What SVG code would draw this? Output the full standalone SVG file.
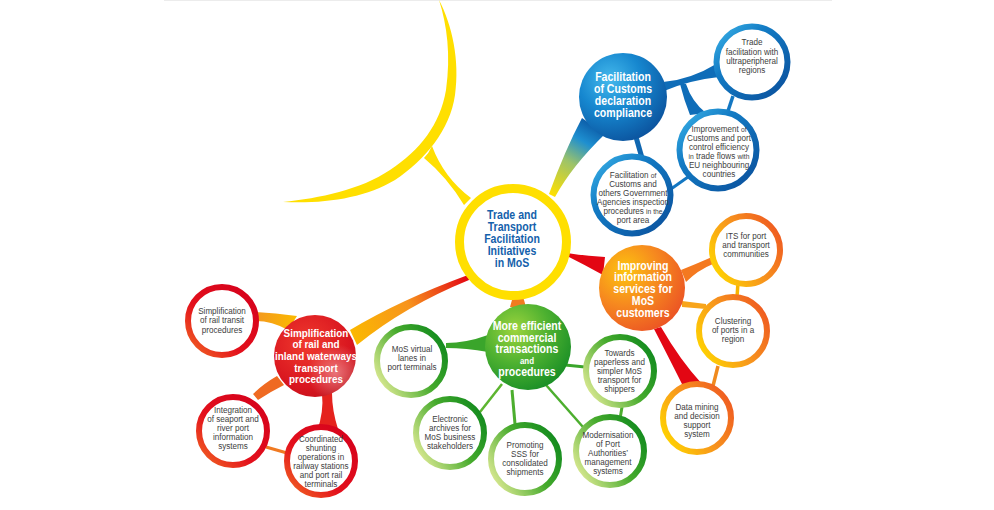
<svg xmlns="http://www.w3.org/2000/svg" width="994" height="510" viewBox="0 0 994 510">
<defs>
  <linearGradient id="ringBlue" x1="0" y1="0" x2="1" y2="1">
    <stop offset="0" stop-color="#3bb3e8"/><stop offset="0.35" stop-color="#137bc4"/><stop offset="1" stop-color="#0a4f9b"/>
  </linearGradient>
  <linearGradient id="ringOrange" x1="1" y1="0.2" x2="0" y2="0.8">
    <stop offset="0" stop-color="#ef5a21"/><stop offset="0.5" stop-color="#f7941d"/><stop offset="1" stop-color="#ffd400"/>
  </linearGradient>
  <linearGradient id="ringRed" x1="1" y1="0" x2="0" y2="1">
    <stop offset="0" stop-color="#d4001c"/><stop offset="0.6" stop-color="#e3101c"/><stop offset="1" stop-color="#f26a23"/>
  </linearGradient>
  <linearGradient id="ringGreen" x1="1" y1="0.2" x2="0" y2="0.8">
    <stop offset="0" stop-color="#118a1e"/><stop offset="0.45" stop-color="#45aa2c"/><stop offset="1" stop-color="#dbe992"/>
  </linearGradient>
  <radialGradient id="fillBlue" cx="0.35" cy="0.3" r="0.8">
    <stop offset="0" stop-color="#45b9ec"/><stop offset="0.45" stop-color="#1687cf"/><stop offset="1" stop-color="#0a4d98"/>
  </radialGradient>
  <radialGradient id="fillOrange" cx="0.3" cy="0.3" r="0.8">
    <stop offset="0" stop-color="#fdc40f"/><stop offset="0.5" stop-color="#f6891f"/><stop offset="1" stop-color="#eb5224"/>
  </radialGradient>
  <radialGradient id="fillRed" cx="0.4" cy="0.35" r="0.75">
    <stop offset="0" stop-color="#f03a2e"/><stop offset="0.7" stop-color="#d9161f"/><stop offset="1" stop-color="#c0121b"/>
  </radialGradient>
  <radialGradient id="hiRed" cx="0.75" cy="0.7" r="0.35">
    <stop offset="0" stop-color="#ffffff" stop-opacity="0.4"/><stop offset="1" stop-color="#ffffff" stop-opacity="0"/>
  </radialGradient>
  <radialGradient id="fillGreen" cx="0.35" cy="0.3" r="0.8">
    <stop offset="0" stop-color="#9cd43d"/><stop offset="0.5" stop-color="#4cb030"/><stop offset="1" stop-color="#138a25"/>
  </radialGradient>
  <linearGradient id="gBlueWedge" gradientUnits="userSpaceOnUse" x1="552" y1="195" x2="595" y2="124">
    <stop offset="0" stop-color="#ffe000"/><stop offset="0.45" stop-color="#9cc36a"/><stop offset="0.75" stop-color="#1e8fd0"/><stop offset="1" stop-color="#0b5aa6"/>
  </linearGradient>
  <linearGradient id="gRedWedge" gradientUnits="userSpaceOnUse" x1="352" y1="338" x2="468" y2="278">
    <stop offset="0" stop-color="#fbb900"/><stop offset="0.5" stop-color="#f7941d"/><stop offset="1" stop-color="#e30613"/>
  </linearGradient>
  <linearGradient id="gRailTransit" gradientUnits="userSpaceOnUse" x1="258" y1="318" x2="295" y2="322">
    <stop offset="0" stop-color="#f49a1e"/><stop offset="1" stop-color="#fbb900"/>
  </linearGradient>
  <style>
    .sat{fill:#fff;stroke-width:6}
    .st{font-family:"Liberation Sans",Arial,sans-serif;font-size:9px;fill:#3d3d3d;text-anchor:middle}
    .mt{font-family:"Liberation Sans",Arial,sans-serif;font-size:12px;font-weight:bold;fill:#fff;text-anchor:middle}
    .sm{font-size:7.5px}
  </style>
</defs>
<rect width="994" height="510" fill="#fff"/>
<line x1="164" y1="0.5" x2="832" y2="0.5" stroke="#ececec" stroke-width="1"/>

<g id="connectors">
  <path d="M439,0 C452,25 460,60 455,95 C450,130 425,160 395,180 C365,198 325,204 283,202 C320,198 360,190 390,170 C420,150 440,125 446,90 C451,55 447,25 439,0 Z" fill="#ffdf00"/>
  <path d="M424,158 Q429,153 432,146 Q444,178 471,198 L464,205 Q447,177 424,158 Z" fill="#ffdf00"/>
  <path d="M549,194 Q565,150 582,118 L605,134 Q572,166 555,197 Z" fill="url(#gBlueWedge)"/>
  <path d="M663,82 Q690,80 718,63 L719,77 Q690,80 664,91 Z" fill="#0f6db8"/>
  <path d="M680,84 L686,84 Q692,102 706,113 L690,115 Q684,100 680,84 Z" fill="#0f6db8"/>
  <line x1="636" y1="137" x2="642" y2="158" stroke="#0f66b0" stroke-width="5"/>
  <line x1="733" y1="96" x2="728" y2="111" stroke="#1377c2" stroke-width="3.5"/>
  <line x1="688" y1="177" x2="671" y2="189" stroke="#1377c2" stroke-width="3"/>
  <path d="M567,253 Q585,256 605,257 L603,275 Q585,265 567,256 Z" fill="#e30613"/>
  <path d="M681,270 Q696,264 712,257 L713,264 Q698,270 686,282 Z" fill="#f47920"/>
  <path d="M682,301 L706,304 L706,309 L682,307 Z" fill="#f8a51b"/>
  <line x1="738" y1="283" x2="737" y2="297" stroke="#f7b500" stroke-width="3.5"/>
  <line x1="718" y1="366" x2="713" y2="386" stroke="#f08a1d" stroke-width="3.5"/>
  <path d="M654,329 L661,327 Q680,360 702,384 L684,388 Q668,356 654,329 Z" fill="#e30613"/>
  <path d="M350,330 Q400,300 468,275 L469,280 Q405,306 357,345 Z" fill="url(#gRedWedge)"/>
  <path d="M256,312 Q275,313 297,316 L288,330 Q272,321 256,321 Z" fill="url(#gRailTransit)"/>
  <path d="M277,376 L284,385 Q270,392 258,400 L253,394 Q263,384 277,376 Z" fill="#ef6a22"/>
  <path d="M322,394 L332,393 Q332,410 338,429 L317,431 Q324,412 322,394 Z" fill="#e5221d"/>
  <line x1="266" y1="447" x2="287" y2="453" stroke="#f07a22" stroke-width="3"/>
  <path d="M514,293 L522,293 L526,307 L510,307 Z" fill="#f07b1f"/>
  <path d="M488,335 Q466,343 446,343 L446,348 Q466,348 488,352 Z" fill="#3aa52b"/>
  <line x1="502" y1="384" x2="480" y2="412" stroke="#5db530" stroke-width="2.5"/>
  <line x1="512" y1="390" x2="515" y2="424" stroke="#4cae2e" stroke-width="3"/>
  <line x1="546" y1="385" x2="583" y2="427" stroke="#4cae2e" stroke-width="2.5"/>
  <line x1="565" y1="365" x2="585" y2="367" stroke="#3aa52b" stroke-width="3"/>
  <line x1="622" y1="407" x2="620" y2="419" stroke="#4cae2e" stroke-width="3"/>
</g>

<g id="center">
  <circle cx="513" cy="242" r="53.5" fill="#fff" stroke="#ffdf00" stroke-width="9"/>
  <text class="mt" style="fill:#1461ab" transform="translate(512 0) scale(0.88 1)">
    <tspan x="0" y="219">Trade and</tspan><tspan x="0" y="231.5">Transport</tspan><tspan x="0" y="243">Facilitation</tspan><tspan x="0" y="255">Initiatives</tspan><tspan x="0" y="267">in MoS</tspan>
  </text>
</g>

<g id="customs">
  <circle cx="623" cy="97" r="44" fill="url(#fillBlue)"/>
  <text class="mt" transform="translate(623 0) scale(0.88 1)"><tspan x="0" y="81">Facilitation</tspan><tspan x="0" y="93">of Customs</tspan><tspan x="0" y="105">declaration</tspan><tspan x="0" y="117">compliance</tspan></text>
</g>
<g id="trade-ultraperipheral">
  <circle class="sat" cx="752" cy="62" r="35.5" stroke="url(#ringBlue)" stroke-width="6.5"/>
  <text class="st" transform="translate(752 0) scale(0.9 1)"><tspan x="0" y="45.5">Trade</tspan><tspan x="0" y="55">facilitation with</tspan><tspan x="0" y="64.5">ultraperipheral</tspan><tspan x="0" y="73.5">regions</tspan></text>
</g>
<g id="customs-efficiency">
  <circle class="sat" cx="718" cy="150" r="38.5" stroke="url(#ringBlue)" stroke-width="6.5"/>
  <text class="st" transform="translate(719 0) scale(0.9 1)"><tspan x="0" y="132">Improvement <tspan class="sm">of</tspan></tspan><tspan x="0" y="141">Customs and port</tspan><tspan x="0" y="150">control efficiency</tspan><tspan x="0" y="159"><tspan class="sm">in</tspan> trade flows <tspan class="sm">with</tspan></tspan><tspan x="0" y="168">EU neighbouring</tspan><tspan x="0" y="177">countries</tspan></text>
</g>
<g id="inspection">
  <circle class="sat" cx="632" cy="195" r="38.5" stroke="url(#ringBlue)" stroke-width="6.5"/>
  <text class="st" transform="translate(633 0) scale(0.9 1)"><tspan x="0" y="178">Facilitation <tspan class="sm">of</tspan></tspan><tspan x="0" y="187">Customs and</tspan><tspan x="0" y="196">others Government</tspan><tspan x="0" y="205">Agencies inspection</tspan><tspan x="0" y="214">procedures <tspan class="sm">in the</tspan></tspan><tspan x="0" y="223">port area</tspan></text>
</g>

<g id="information">
  <circle cx="642" cy="288" r="43" fill="url(#fillOrange)"/>
  <text class="mt" transform="translate(643 0) scale(0.88 1)"><tspan x="0" y="270">Improving</tspan><tspan x="0" y="281.5">information</tspan><tspan x="0" y="293.5">services for</tspan><tspan x="0" y="305">MoS</tspan><tspan x="0" y="317">customers</tspan></text>
</g>
<g id="its">
  <circle class="sat" cx="746" cy="250" r="34" stroke="url(#ringOrange)"/>
  <text class="st" transform="translate(746 0) scale(0.9 1)"><tspan x="0" y="239">ITS for port</tspan><tspan x="0" y="248">and transport</tspan><tspan x="0" y="257">communities</tspan></text>
</g>
<g id="clustering">
  <circle class="sat" cx="733" cy="331" r="34" stroke="url(#ringOrange)"/>
  <text class="st" transform="translate(733 0) scale(0.9 1)"><tspan x="0" y="324">Clustering</tspan><tspan x="0" y="333">of ports in a</tspan><tspan x="0" y="342">region</tspan></text>
</g>
<g id="data-mining">
  <circle class="sat" cx="697" cy="418" r="34" stroke="url(#ringOrange)"/>
  <text class="st" transform="translate(697 0) scale(0.9 1)"><tspan x="0" y="410">Data mining</tspan><tspan x="0" y="419">and decision</tspan><tspan x="0" y="428">support</tspan><tspan x="0" y="437">system</tspan></text>
</g>

<g id="rail">
  <circle cx="315" cy="356" r="41" fill="url(#fillRed)"/>
  <circle cx="315" cy="356" r="41" fill="url(#hiRed)"/>
  <text class="mt" style="font-size:11.5px" transform="translate(316 0) scale(0.86 1)"><tspan x="0" y="337">Simplification</tspan><tspan x="0" y="348.5">of rail and</tspan><tspan x="0" y="360">inland waterways</tspan><tspan x="0" y="372">transport</tspan><tspan x="0" y="383.5">procedures</tspan></text>
</g>
<g id="rail-transit">
  <circle class="sat" cx="222" cy="321" r="34" stroke="url(#ringRed)"/>
  <text class="st" transform="translate(222 0) scale(0.9 1)"><tspan x="0" y="314.5">Simplification</tspan><tspan x="0" y="323.5">of rail transit</tspan><tspan x="0" y="333">procedures</tspan></text>
</g>
<g id="integration">
  <circle class="sat" cx="233" cy="431" r="34" stroke="url(#ringRed)"/>
  <text class="st" transform="translate(233 0) scale(0.9 1)"><tspan x="0" y="413">Integration</tspan><tspan x="0" y="422">of seaport and</tspan><tspan x="0" y="431">river port</tspan><tspan x="0" y="440">information</tspan><tspan x="0" y="449">systems</tspan></text>
</g>
<g id="shunting">
  <circle class="sat" cx="321" cy="461" r="34" stroke="url(#ringRed)"/>
  <text class="st" transform="translate(321 0) scale(0.9 1)"><tspan x="0" y="442.5">Coordinated</tspan><tspan x="0" y="451.5">shunting</tspan><tspan x="0" y="460.5">operations in</tspan><tspan x="0" y="469.5">railway stations</tspan><tspan x="0" y="478.5">and port rail</tspan><tspan x="0" y="487.5">terminals</tspan></text>
</g>

<g id="commercial">
  <circle cx="528" cy="347" r="43" fill="url(#fillGreen)"/>
  <text class="mt" transform="translate(527 0) scale(0.88 1)"><tspan x="0" y="330">More efficient</tspan><tspan x="0" y="342">commercial</tspan><tspan x="0" y="353.5">transactions</tspan><tspan x="0" y="364.5" style="font-size:9px">and</tspan><tspan x="0" y="376.5">procedures</tspan></text>
</g>
<g id="virtual-lanes">
  <circle class="sat" cx="411" cy="361" r="34" stroke="url(#ringGreen)"/>
  <text class="st" transform="translate(412 0) scale(0.9 1)"><tspan x="0" y="352">MoS virtual</tspan><tspan x="0" y="361">lanes in</tspan><tspan x="0" y="370">port terminals</tspan></text>
</g>
<g id="electronic-archives">
  <circle class="sat" cx="450" cy="433" r="34" stroke="url(#ringGreen)"/>
  <text class="st" transform="translate(450 0) scale(0.9 1)"><tspan x="0" y="422">Electronic</tspan><tspan x="0" y="431">archives for</tspan><tspan x="0" y="440">MoS business</tspan><tspan x="0" y="449">stakeholders</tspan></text>
</g>
<g id="promoting-sss">
  <circle class="sat" cx="525" cy="459" r="34" stroke="url(#ringGreen)"/>
  <text class="st" transform="translate(525 0) scale(0.9 1)"><tspan x="0" y="448.5">Promoting</tspan><tspan x="0" y="457.5">SSS for</tspan><tspan x="0" y="466.5">consolidated</tspan><tspan x="0" y="475.5">shipments</tspan></text>
</g>
<g id="paperless">
  <circle class="sat" cx="620" cy="371" r="34" stroke="url(#ringGreen)"/>
  <text class="st" transform="translate(619.5 0) scale(0.9 1)"><tspan x="0" y="356">Towards</tspan><tspan x="0" y="365">paperless and</tspan><tspan x="0" y="374">simpler MoS</tspan><tspan x="0" y="383">transport  for</tspan><tspan x="0" y="392">shippers</tspan></text>
</g>
<g id="modernisation">
  <circle class="sat" cx="610" cy="451" r="34" stroke="url(#ringGreen)"/>
  <text class="st" transform="translate(608 0) scale(0.9 1)"><tspan x="0" y="438">Modernisation</tspan><tspan x="0" y="447">of Port</tspan><tspan x="0" y="456">Authorities’</tspan><tspan x="0" y="465">management</tspan><tspan x="0" y="474">systems</tspan></text>
</g>
</svg>
